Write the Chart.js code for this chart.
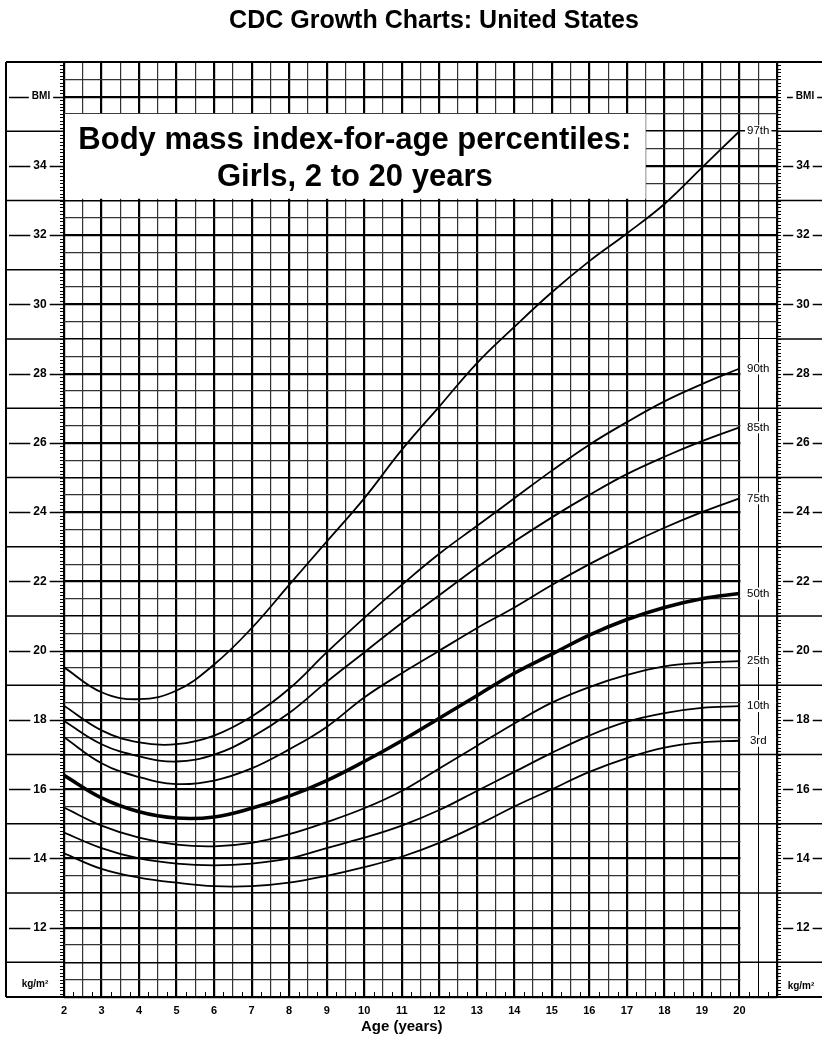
<!DOCTYPE html>
<html>
<head>
<meta charset="utf-8">
<script src="https://cdn.jsdelivr.net/npm/chart.js@4.4.1/dist/chart.umd.min.js"></script>
<style>
  html, body { margin: 0; padding: 0; background: #fff; }
  #wrap { width: 822px; height: 1040px; }
</style>
</head>
<body>
<div id="wrap"><canvas id="bmiChart" width="822" height="1040"></canvas></div>
<script>
// ages in years, BMI values (kg/m²)
const ages = [2, 3, 4, 5, 6, 7, 8, 9, 10, 11, 12, 13, 14, 15, 16, 17, 18, 19, 20];
const p3  = [14.15, 13.7, 13.45, 13.3, 13.2, 13.2, 13.3, 13.5, 13.75, 14.05, 14.45, 14.95, 15.5, 16.0, 16.5, 16.9, 17.2, 17.35, 17.4];
const p10 = [14.75, 14.3, 14.0, 13.85, 13.8, 13.85, 14.0, 14.3, 14.6, 14.95, 15.4, 15.95, 16.5, 17.05, 17.55, 17.95, 18.2, 18.35, 18.4];
const p25 = [15.47, 14.95, 14.6, 14.4, 14.35, 14.45, 14.7, 15.05, 15.45, 15.95, 16.6, 17.25, 17.9, 18.5, 18.95, 19.3, 19.55, 19.65, 19.7];
const p50 = [16.4, 15.75, 15.35, 15.17, 15.2, 15.45, 15.8, 16.25, 16.8, 17.4, 18.05, 18.7, 19.35, 19.9, 20.45, 20.9, 21.25, 21.5, 21.65];
const p75 = [17.5, 16.75, 16.35, 16.15, 16.25, 16.6, 17.15, 17.8, 18.65, 19.35, 20.0, 20.65, 21.25, 21.9, 22.5, 23.05, 23.55, 24.0, 24.4];
const p85 = [17.97, 17.3, 16.95, 16.8, 17.0, 17.5, 18.2, 19.1, 19.95, 20.8, 21.6, 22.4, 23.15, 23.85, 24.5, 25.1, 25.6, 26.05, 26.45];
const p90 = [18.41, 17.7, 17.35, 17.3, 17.55, 18.1, 18.9, 19.95, 20.95, 21.9, 22.8, 23.6, 24.4, 25.2, 25.95, 26.6, 27.2, 27.7, 28.15];
const p97 = [19.52, 18.8, 18.6, 18.85, 19.6, 20.65, 21.9, 23.15, 24.4, 25.8, 27.05, 28.3, 29.35, 30.35, 31.25, 32.05, 32.9, 33.95, 35.0];

const percentileNames = ['3rd', '10th', '25th', '50th', '75th', '85th', '90th', '97th'];
const percentileSeries = [p3, p10, p25, p50, p75, p85, p90, p97];
const xTickLabels = [2, 3, 4, 5, 6, 7, 8, 9, 10, 11, 12, 13, 14, 15, 16, 17, 18, 19, 20];
const yTickLabels = [12, 14, 16, 18, 20, 22, 24, 26, 28, 30, 32, 34];

const FONT = '"Liberation Sans", Arial, Helvetica, sans-serif';

const datasets = percentileSeries.map((vals, i) => ({
    label: percentileNames[i],
    data: vals.map((v, j) => ({ x: ages[j], y: v })),
    borderColor: '#000',
    borderWidth: percentileNames[i] === '50th' ? 3.6 : 1.8,
    pointRadius: 0,
    fill: false,
    tension: 0.4
}));

function hline(ctx, x0, x1, yy, w) {
    ctx.lineWidth = w;
    ctx.beginPath();
    ctx.moveTo(x0, yy);
    ctx.lineTo(x1, yy);
    ctx.stroke();
}

function vline(ctx, xx, y0, y1, w) {
    ctx.lineWidth = w;
    ctx.beginPath();
    ctx.moveTo(xx, y0);
    ctx.lineTo(xx, y1);
    ctx.stroke();
}

// label with dashes either side, like "— 34 —"
function dashedLabel(ctx, text, cx, yy, x0, x1) {
    const w = ctx.measureText(text).width;
    ctx.fillText(text, cx, yy);
    hline(ctx, x0, cx - w / 2 - 3, Math.round(yy) + 0.5, 1.5);
    hline(ctx, cx + w / 2 + 3, x1, Math.round(yy) + 0.5, 1.5);
}

const chartFrame = {
    id: 'chartFrame',
    beforeDatasetsDraw(chart) {
        const { ctx, chartArea: a, scales: { x, y } } = chart;
        ctx.save();
        ctx.strokeStyle = '#000';

        // strip between 20 and 21 years used for the percentile labels
        const sx0 = x.getPixelForValue(20), sx1 = x.getPixelForValue(21);
        const sy0 = y.getPixelForValue(29);
        ctx.fillStyle = '#fff';
        ctx.fillRect(sx0 + 1, sy0, sx1 - sx0 - 2, a.bottom - 1 - sy0);
        for (let v = 11; v < 29; v += 2) {
            hline(ctx, sx0, sx1, y.getPixelForValue(v), 1.5);
        }
        vline(ctx, Math.round(x.getPixelForValue(20.5)) + 0.5, sy0, a.bottom, 1);

        // title box
        const bTop = y.getPixelForValue(35.5), bBot = y.getPixelForValue(33.05);
        const bRight = x.getPixelForValue(17.5);
        ctx.fillStyle = '#fff';
        ctx.fillRect(a.left + 1, bTop, bRight - a.left - 1, bBot - bTop);
        ctx.fillStyle = '#000';
        ctx.textAlign = 'center';
        ctx.textBaseline = 'alphabetic';
        ctx.font = 'bold 31px ' + FONT;
        const cx = (a.left + bRight) / 2;
        ctx.fillText('Body mass index-for-age percentiles:', cx, bTop + 35);
        ctx.fillText('Girls, 2 to 20 years', cx, bTop + 72);
        ctx.restore();
    },
    afterDatasetsDraw(chart) {
        const { ctx, scales: { x, y } } = chart;
        ctx.save();
        ctx.font = '11.5px ' + FONT;
        ctx.textAlign = 'center';
        ctx.textBaseline = 'middle';
        const lx = x.getPixelForValue(20.5);
        percentileSeries.forEach((vals, i) => {
            const ly = y.getPixelForValue(vals[vals.length - 1]);
            const w = ctx.measureText(percentileNames[i]).width;
            ctx.fillStyle = '#fff';
            ctx.fillRect(lx - w / 2 - 2, ly - 6, w + 4, 12);
            ctx.fillStyle = '#000';
            ctx.fillText(percentileNames[i], lx, ly);
        });
        ctx.restore();
    },
    afterDraw(chart) {
        const { ctx, chartArea: a, scales: { x, y } } = chart;
        const W = chart.width;
        const frameLeft = 6;
        ctx.save();
        ctx.strokeStyle = '#000';
        ctx.fillStyle = '#000';

        // outer frame
        hline(ctx, frameLeft, W, a.top, 2);
        hline(ctx, frameLeft, W, a.bottom, 2);
        vline(ctx, frameLeft, a.top, a.bottom, 2);

        // side columns: lines at odd values
        for (let v = 11; v <= 35; v += 2) {
            const py = y.getPixelForValue(v);
            hline(ctx, frameLeft, a.left, py, 1.5);
            hline(ctx, a.right, W, py, 1.5);
        }

        // small ticks every 0.1 along both edges
        for (let i = 100; i <= 370; i++) {
            const py = Math.round(y.getPixelForValue(i / 10)) + 0.5;
            hline(ctx, a.left - 4, a.left, py, 1);
            hline(ctx, a.right, a.right + 4, py, 1);
        }
        // small ticks at the quarter years along the bottom
        for (let t = 2.25; t < 21; t += 0.5) {
            vline(ctx, Math.round(x.getPixelForValue(t)) + 0.5, a.bottom - 5, a.bottom, 1);
        }

        // y labels in both columns
        const lcx = 40, rcx = 803;
        ctx.textAlign = 'center';
        ctx.textBaseline = 'middle';
        ctx.font = 'bold 12px ' + FONT;
        yTickLabels.forEach(v => {
            const py = y.getPixelForValue(v);
            dashedLabel(ctx, String(v), lcx, py, frameLeft + 3, a.left);
            dashedLabel(ctx, String(v), rcx, py, a.right + 6, W);
        });
        ctx.font = 'bold 10px ' + FONT;
        dashedLabel(ctx, 'BMI', 41, y.getPixelForValue(36), frameLeft + 3, a.left);
        dashedLabel(ctx, 'BMI', 805, y.getPixelForValue(36), a.right + 10, W);
        ctx.fillText('kg/m²', 35, y.getPixelForValue(10.38));
        ctx.fillText('kg/m²', 801, y.getPixelForValue(10.32));

        // x labels
        ctx.font = 'bold 11px ' + FONT;
        xTickLabels.forEach(t => {
            ctx.fillText(String(t), x.getPixelForValue(t), a.bottom + 14);
        });
        ctx.font = 'bold 15px ' + FONT;
        ctx.fillText('Age (years)', (x.getPixelForValue(2) + x.getPixelForValue(20)) / 2, a.bottom + 30);

        // page title
        ctx.font = 'bold 25px ' + FONT;
        ctx.textBaseline = 'alphabetic';
        ctx.fillText('CDC Growth Charts: United States', 434, 28);
        ctx.restore();
    }
};

const ctx = document.getElementById('bmiChart').getContext('2d');
new Chart(ctx, {
    type: 'line',
    data: { datasets },
    options: {
        responsive: false,
        devicePixelRatio: 1,
        animation: false,
        layout: { padding: { left: 64, right: 45, top: 62, bottom: 43 } },
        plugins: { legend: { display: false }, tooltip: { enabled: false } },
        scales: {
            x: {
                type: 'linear',
                min: 2,
                max: 21,
                ticks: { display: false, stepSize: 0.5, maxTicksLimit: 100 },
                border: { display: false },
                grid: {
                    drawTicks: false,
                    color: c => (c.tick && c.tick.value % 1 === 0) ? '#000' : '#333',
                    lineWidth: c => (c.tick && c.tick.value % 1 === 0) ? 2.2 : 1.2
                }
            },
            y: {
                type: 'linear',
                min: 10,
                max: 37,
                ticks: { display: false, stepSize: 0.5, maxTicksLimit: 100 },
                border: { display: false },
                grid: {
                    drawTicks: false,
                    color: c => (c.tick && c.tick.value % 1 === 0) ? '#000' : '#333',
                    lineWidth: c => {
                        const v = c.tick ? c.tick.value : 0;
                        if (v % 2 === 0) return 2.2;
                        if (v % 1 === 0) return 1.6;
                        return 1.2;
                    }
                }
            }
        }
    },
    plugins: [chartFrame]
});
</script>
</body>
</html>
